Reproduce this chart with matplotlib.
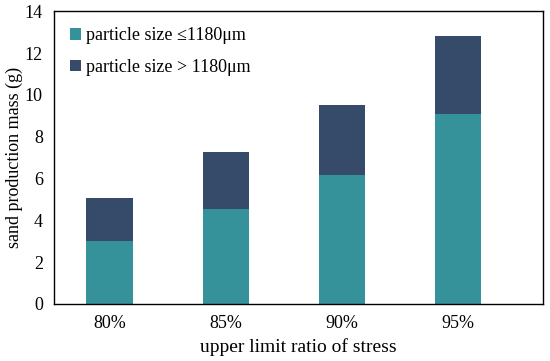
import matplotlib
matplotlib.use("Agg")
import matplotlib.pyplot as plt
import numpy as np

categories = ["80%", "85%", "90%", "95%"]
fine = [3.0, 4.55, 6.15, 9.07]      # particle size <= 1180um
coarse = [2.05, 2.7, 3.35, 3.73]    # particle size > 1180um

plt.rcParams["font.family"] = ["Liberation Serif", "DejaVu Serif"]

fig = plt.figure(figsize=(5.5, 3.61), dpi=100)
ax = fig.add_axes([0.098, 0.158, 0.889, 0.811])

x = np.arange(len(categories))
ax.bar(x, fine, width=0.4, color="#36929A", label="particle size \u22641180\u03bcm")
ax.bar(x, coarse, width=0.4, bottom=fine, color="#364A6A", label="particle size > 1180\u03bcm")

ax.set_xlim(-0.48, 3.73)
ax.set_ylim(0, 14)
ax.set_yticks(range(0, 15, 2))
ax.set_xticks(x)
ax.set_xticklabels(categories)
ax.tick_params(length=0, labelsize=13, pad=8)
ax.set_xlabel("upper limit ratio of stress", fontsize=14, labelpad=4)
ax.set_ylabel("sand production mass (g)", fontsize=13, labelpad=1)
for s in ax.spines.values():
    s.set_linewidth(1.0)

ax.legend(loc="upper left", frameon=False, fontsize=13, handlelength=0.6, handleheight=0.6,
          handletextpad=0.3, labelspacing=0.8, bbox_to_anchor=(0.0, 1.0))

plt.savefig("out.png", dpi=100)
